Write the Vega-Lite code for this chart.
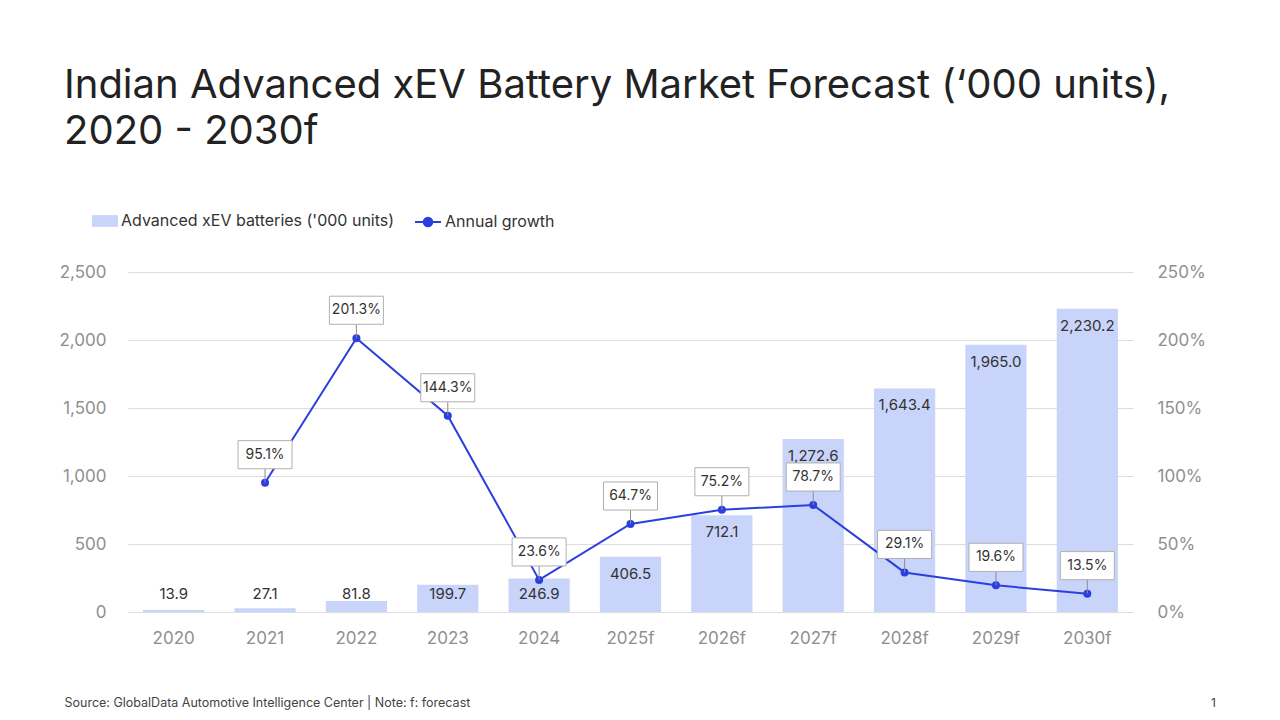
{
  "$schema": "https://vega.github.io/schema/vega-lite/v6.json",
  "width": 1005,
  "height": 340,
  "autosize": "none",
  "padding": {"left": 128, "top": 272, "right": 147, "bottom": 108},
  "background": "#ffffff",
  "title": {
    "text": ["Indian Advanced xEV Battery Market Forecast (‘000 units),", "2020 - 2030f"],
    "anchor": "start",
    "frame": "group",
    "dx": -64,
    "offset": 56,
    "fontSize": 40,
    "fontWeight": 400,
    "lineHeight": 46,
    "color": "#222222"
  },
  "config": {
    "font": "Inter",
    "view": {"stroke": null},
    "axis": {"labelFont": "Inter", "titleFont": "Inter"},
    "legend": {"labelFont": "Inter"}
  },
  "data": {
    "values": [
      {"year": "2020", "batteries": 13.9, "growth": null},
      {"year": "2021", "batteries": 27.1, "growth": 95.1},
      {"year": "2022", "batteries": 81.8, "growth": 201.3},
      {"year": "2023", "batteries": 199.7, "growth": 144.3},
      {"year": "2024", "batteries": 246.9, "growth": 23.6},
      {"year": "2025f", "batteries": 406.5, "growth": 64.7},
      {"year": "2026f", "batteries": 712.1, "growth": 75.2},
      {"year": "2027f", "batteries": 1272.6, "growth": 78.7},
      {"year": "2028f", "batteries": 1643.4, "growth": 29.1},
      {"year": "2029f", "batteries": 1965.0, "growth": 19.6},
      {"year": "2030f", "batteries": 2230.2, "growth": 13.5}
    ]
  },
  "encoding": {
    "x": {
      "field": "year",
      "type": "nominal",
      "sort": null,
      "scale": {"paddingInner": 0.33, "paddingOuter": 0.165},
      "axis": {
        "labelAngle": 0,
        "labelPadding": 18,
        "labelFontSize": 17,
        "labelColor": "#8f8f8f",
        "ticks": false,
        "domain": false,
        "title": "Source: GlobalData Automotive Intelligence Center | Note: f: forecast",
        "titleX": -64,
        "titleY": 90,
        "titleAlign": "left",
        "titleBaseline": "middle",
        "titleFontSize": 12.5,
        "titleFontWeight": 400,
        "titleColor": "#444444"
      }
    }
  },
  "layer": [
    {
      "layer": [
        {
          "mark": {"type": "bar", "color": "#c9d4fb"},
          "encoding": {
            "y": {
              "field": "batteries",
              "type": "quantitative",
              "scale": {"domain": [0, 2500], "nice": false},
              "axis": {
                "values": [0, 500, 1000, 1500, 2000, 2500],
                "labelExpr": "format(datum.value, ',')",
                "title": null,
                "domain": false,
                "ticks": false,
                "labelPadding": 22,
                "labelFontSize": 17,
                "labelColor": "#8f8f8f",
                "gridColor": "#dddddd",
                "gridWidth": 1
              }
            },
            "fill": {
              "datum": "Advanced xEV batteries ('000 units)",
              "scale": {"range": ["#c9d4fb"]},
              "legend": {
                "orient": "none",
                "legendX": -36,
                "legendY": -64,
                "title": null,
                "padding": 0,
                "symbolType": "M-1,-0.45H1V0.45H-1Z",
                "symbolSize": 676,
                "symbolStrokeWidth": 0,
                "labelFontSize": 16,
                "labelLimit": 400,
                "labelColor": "#333333",
                "labelOffset": 3
              }
            }
          }
        },
        {
          "transform": [{"filter": "datum.batteries >= 250"}],
          "mark": {"type": "text", "dy": 17, "fontSize": 15, "color": "#333333"},
          "encoding": {
            "y": {"field": "batteries", "type": "quantitative"},
            "text": {"field": "batteries", "type": "quantitative", "format": ",.1f"}
          }
        },
        {
          "transform": [{"filter": "datum.batteries < 250"}],
          "mark": {"type": "text", "fontSize": 15, "color": "#333333"},
          "encoding": {
            "y": {
              "datum": 130,
              "type": "quantitative",
              "axis": {
                "values": [0, 500, 1000, 1500, 2000, 2500],
                "labelExpr": "format(datum.value, ',')",
                "title": null,
                "domain": false,
                "ticks": false,
                "labelPadding": 22,
                "labelFontSize": 17,
                "labelColor": "#8f8f8f",
                "gridColor": "#dddddd",
                "gridWidth": 1
              }
            },
            "text": {"field": "batteries", "type": "quantitative", "format": ",.1f"}
          }
        }
      ]
    },
    {
      "transform": [{"filter": "datum.growth != null"}],
      "layer": [
        {
          "mark": {"type": "line", "color": "#2b3fde", "strokeWidth": 2},
          "encoding": {
            "y": {
              "field": "growth",
              "type": "quantitative",
              "scale": {"domain": [0, 250], "nice": false},
              "axis": {
                "orient": "right",
                "values": [0, 50, 100, 150, 200, 250],
                "labelExpr": "datum.value + '%'",
                "grid": false,
                "domain": false,
                "ticks": false,
                "labelPadding": 24,
                "labelFontSize": 17,
                "labelColor": "#8f8f8f",
                "title": "1",
                "titleAngle": 0,
                "titleX": 80,
                "titleY": 430,
                "titleAlign": "center",
                "titleBaseline": "middle",
                "titleFontSize": 12,
                "titleFontWeight": 400,
                "titleColor": "#444444"
              }
            },
            "stroke": {
              "datum": "Annual growth",
              "scale": {"range": ["#2b3fde"]},
              "legend": {
                "orient": "none",
                "legendX": 286,
                "legendY": -64,
                "title": null,
                "padding": 0,
                "symbolType": "M-1,0H1M0.33,0A0.33,0.33 0 1,1 -0.33,0A0.33,0.33 0 1,1 0.33,0Z",
                "symbolSize": 676,
                "symbolStrokeWidth": 2,
                "labelFontSize": 16,
                "labelLimit": 400,
                "labelColor": "#333333",
                "labelOffset": 3,
                "encode": {"symbols": {"update": {"fill": {"value": "#2b3fde"}}}}
              }
            }
          }
        },
        {
          "mark": {"type": "point", "filled": true, "size": 64, "color": "#2b3fde", "opacity": 1},
          "encoding": {"y": {"field": "growth", "type": "quantitative"}}
        },
        {
          "mark": {"type": "rule", "color": "#8c8c8c", "strokeWidth": 1, "y2Offset": -14},
          "encoding": {
            "y": {"field": "growth", "type": "quantitative"},
            "y2": {"field": "growth"}
          }
        },
        {
          "mark": {
            "type": "point",
            "shape": "M-1,-0.52H1V0.52H-1Z",
            "size": 2916,
            "filled": true,
            "fill": "#ffffff",
            "stroke": "#b0b0b0",
            "strokeWidth": 1,
            "opacity": 1,
            "yOffset": -28
          },
          "encoding": {"y": {"field": "growth", "type": "quantitative"}}
        },
        {
          "mark": {
            "type": "text",
            "fontSize": 14,
            "color": "#333333",
            "dy": -28,
            "text": {"expr": "format(datum.growth, '.1f') + '%'"}
          },
          "encoding": {
            "y": {"field": "growth", "type": "quantitative"}
          }
        }
      ]
    }
  ],
  "resolve": {"scale": {"y": "independent"}, "axis": {"y": "independent"}}
}
